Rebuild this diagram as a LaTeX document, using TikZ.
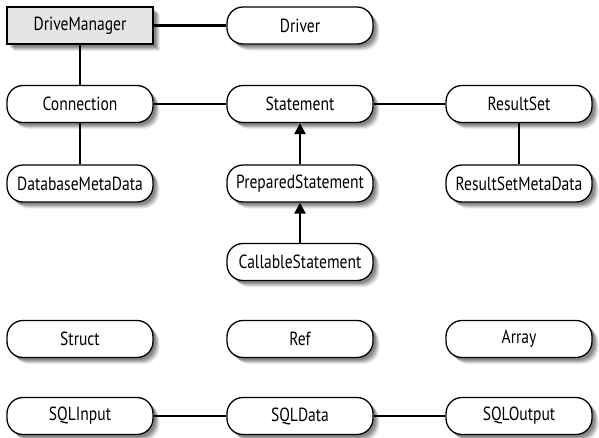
\documentclass[tikz,border=0pt]{standalone}
\usepackage{fontspec}
\setmainfont[FakeStretch=0.82]{PT Sans}
\usetikzlibrary{shadows,arrows.meta}
\tikzset{
  sh/.style={
    drop shadow={shadow xshift=2.5pt, shadow yshift=-2.5pt, opacity=0.14, fill=black},
    drop shadow={shadow xshift=3.5pt, shadow yshift=-3.5pt, opacity=0.14, fill=black},
    drop shadow={shadow xshift=4.5pt, shadow yshift=-4.5pt, opacity=0.12, fill=black},
    drop shadow={shadow xshift=5.5pt, shadow yshift=-5.5pt, opacity=0.10, fill=black},
    drop shadow={shadow xshift=6.5pt, shadow yshift=-6.5pt, opacity=0.08, fill=black}},
  cls/.style={sh, draw=black, line width=1.3pt, fill=white, rounded corners=16pt,
    minimum width=146pt, minimum height=37pt, inner sep=0pt, font=\fontsize{19}{21}\selectfont},
  mgr/.style={cls, rounded corners=0pt, fill=black!10},
  link/.style={line width=2.4pt, black},
  inh/.style={link, -{Triangle[length=11pt,width=11pt]}}
}
\begin{document}
\begin{tikzpicture}[x=1pt,y=-1pt]
\useasboundingbox (0,0) rectangle (599,437);
\node[mgr] (dm) at (80,25.5) {DriveManager};
\node[cls] (drv) at (300,25.5) {Driver};
\node[cls] (con) at (80,104) {Connection};
\node[cls] (st) at (300,104) {Statement};
\node[cls] (rs) at (519,104) {ResultSet};
\node[cls] (dbmd) at (80,183.5) {DatabaseMetaData};
\node[cls] (ps) at (300,183.5) {PreparedStatement};
\node[cls] (rsmd) at (519,183.5) {ResultSetMetaData};
\node[cls] (cs) at (300,262) {CallableStatement};
\node[cls] (str) at (80,339) {Struct};
\node[cls] (ref) at (300,339) {Ref};
\node[cls] (arr) at (519,339) {Array};
\node[cls] (sin) at (80,416) {SQLInput};
\node[cls] (sd) at (300,416) {SQLData};
\node[cls] (sout) at (519,416) {SQLOutput};
\draw[link] (dm) -- (drv);
\draw[link] (dm) -- (con);
\draw[link] (con) -- (st);
\draw[link] (st) -- (rs);
\draw[link] (con) -- (dbmd);
\draw[link] (rs) -- (rsmd);
\draw[inh] (ps) -- (st);
\draw[inh] (cs) -- (ps);
\draw[link] (sin) -- (sd);
\draw[link] (sd) -- (sout);
\end{tikzpicture}
\end{document}
